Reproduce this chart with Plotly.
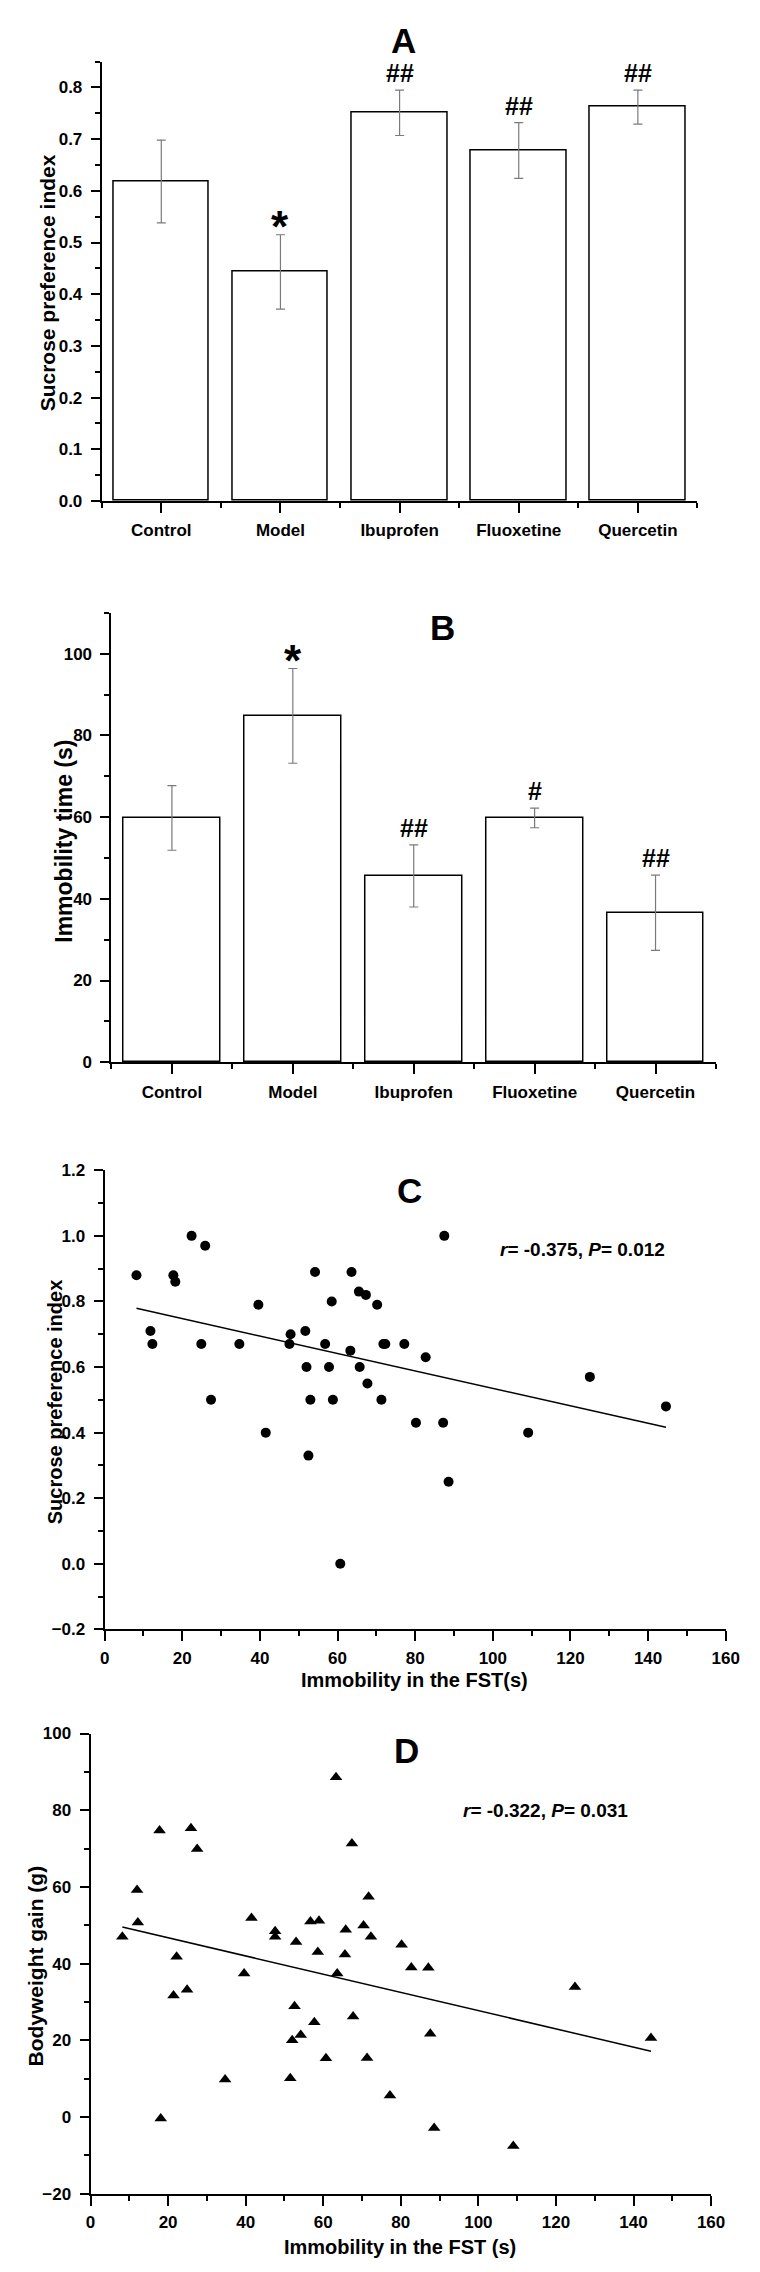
import numpy as np
import plotly.graph_objects as go

W, H = 760, 2272

# ---- data ----
groups = ["Control", "Model", "Ibuprofen", "Fluoxetine", "Quercetin"]

sucrose_mean = [0.618, 0.443, 0.751, 0.678, 0.762]
sucrose_sem = [0.080, 0.072, 0.044, 0.054, 0.033]
sucrose_sig = ["", "*", "##", "##", "##"]

immob_mean = [59.8, 84.8, 45.6, 59.8, 36.6]
immob_sem = [7.9, 11.6, 7.6, 2.4, 9.2]
immob_sig = ["", "*", "##", "#", "##"]

# panel C: immobility (s) vs sucrose preference index
fst_c = [8.2, 11.8, 12.3, 17.7, 18.2, 22.4, 25.9, 24.9, 27.4, 34.7, 39.6,
         41.5, 47.9, 47.6, 51.7, 52.0, 52.5, 53.0, 54.2, 56.8, 57.8, 58.5,
         58.8, 60.7, 63.3, 63.6, 65.5, 65.7, 67.3, 67.7, 70.2, 71.3, 71.8,
         72.3, 77.2, 80.2, 82.7, 87.2, 87.5, 88.6, 109.1, 125.0, 144.6]
spi_c = [0.88, 0.71, 0.67, 0.88, 0.86, 1.00, 0.97, 0.67, 0.50, 0.67, 0.79,
         0.40, 0.70, 0.67, 0.71, 0.60, 0.33, 0.50, 0.89, 0.67, 0.60, 0.80,
         0.50, 0.00, 0.65, 0.89, 0.83, 0.60, 0.82, 0.55, 0.79, 0.50, 0.67,
         0.67, 0.67, 0.43, 0.63, 0.43, 1.00, 0.25, 0.40, 0.57, 0.48]

# panel D: immobility (s) vs bodyweight gain (g)
fst_d = [8.2, 12.0, 12.2, 17.8, 18.1, 21.4, 22.2, 24.9, 25.9, 27.5, 34.7,
         39.6, 41.5, 47.6, 47.6, 51.5, 52.0, 52.6, 53.0, 54.2, 56.7, 57.7,
         58.6, 58.9, 60.7, 63.3, 63.6, 65.6, 65.8, 67.4, 67.7, 70.4, 71.3,
         71.7, 72.3, 77.2, 80.2, 82.7, 87.1, 87.6, 88.6, 109.0, 124.9, 144.5]
gain_d = [47.0, 59.2, 50.7, 74.7, -0.4, 31.7, 41.8, 33.2, 75.3, 69.9, 9.8,
          37.4, 51.9, 48.4, 47.0, 10.1, 20.0, 28.9, 45.6, 21.4, 51.0, 24.7,
          43.0, 51.2, 15.3, 88.6, 37.4, 42.4, 48.8, 71.3, 26.2, 49.9, 15.4,
          57.4, 47.0, 5.6, 44.9, 39.0, 38.9, 21.7, -2.9, -7.6, 33.9, 20.6]

stats_c = "<i>r</i>= -0.375, <i>P</i>= 0.012"
stats_d = "<i>r</i>= -0.322, <i>P</i>= 0.031"


FONT = "Liberation Sans, Arial, sans-serif"


def xdom(x0, x1):
    return [x0 / W, x1 / W]


def ydom(top, bottom):
    return [1 - bottom / H, 1 - top / H]


def at_px(x, y):
    return dict(x=x / W, y=1 - y / H, xref="paper", yref="paper",
                xanchor="center", yanchor="middle")


axis_style = dict(showline=True, linecolor="black", linewidth=2,
                  ticks="outside", ticklen=9, tickwidth=2, tickcolor="black",
                  ticklabelstandoff=5,
                  showgrid=False, zeroline=False, fixedrange=True,
                  tickfont=dict(family=FONT, size=17, color="black", weight="bold"))


def ax(**kw):
    return {**axis_style, **kw}


def minor(step, start=None):
    m = dict(dtick=step, ticks="outside", ticklen=5, tickwidth=2,
             tickcolor="black", showgrid=False)
    if start is not None:
        m["tick0"] = start
    return m


fig = go.Figure()

bar_style = dict(width=0.8, marker=dict(color="white", line=dict(color="black", width=1.5)),
                 showlegend=False, hoverinfo="skip")
err_style = dict(type="data", color="#7a7a7a", thickness=1.2, width=4.5)

fig.add_trace(go.Bar(x=list(range(len(groups))), y=sucrose_mean,
                     error_y=dict(array=sucrose_sem, **err_style),
                     xaxis="x", yaxis="y", **bar_style))
fig.add_trace(go.Bar(x=list(range(len(groups))), y=immob_mean,
                     error_y=dict(array=immob_sem, **err_style),
                     xaxis="x2", yaxis="y2", **bar_style))

# scatter + least squares line
for xs, ys, sym, size, n in [(fst_c, spi_c, "circle", 10, "3"),
                             (fst_d, gain_d, "triangle-up", 11, "4")]:
    fig.add_trace(go.Scatter(x=xs, y=ys, mode="markers",
                             marker=dict(symbol=sym, size=size, color="black"),
                             xaxis="x" + n, yaxis="y" + n, showlegend=False))
    k, b = np.polyfit(xs, ys, 1)
    ends = np.array([min(xs), max(xs)])
    fig.add_trace(go.Scatter(x=ends, y=k * ends + b, mode="lines",
                             line=dict(color="black", width=1.5),
                             xaxis="x" + n, yaxis="y" + n, showlegend=False))

cat_x = dict(range=[-0.5, 4.5], tickmode="array", tickvals=list(range(5)),
             ticktext=groups, ticklen=10, ticklabelstandoff=3, minor=minor(1, 0.5))
num_x = dict(range=[0, 160], dtick=20, ticklen=10, ticklabelstandoff=2, minor=minor(10))

fig.update_layout(
    width=W, height=H, margin=dict(l=0, r=0, t=0, b=0),
    paper_bgcolor="white", plot_bgcolor="white", bargap=0,
    xaxis=ax(domain=xdom(91, 702), anchor="y", **cat_x),
    yaxis=ax(domain=ydom(45, 488), anchor="x", range=[0, 0.85], dtick=0.1,
             tickformat=".1f", minor=minor(0.05)),
    xaxis2=ax(domain=xdom(101, 721), anchor="y2", **cat_x),
    yaxis2=ax(domain=ydom(601, 1054), anchor="x2", range=[0, 110], dtick=20,
              minor=minor(10)),
    xaxis3=ax(domain=xdom(94, 731), anchor="y3", **num_x),
    yaxis3=ax(domain=ydom(1163, 1626), anchor="x3", range=[-0.2, 1.2], dtick=0.2,
              tickformat=".1f", minor=minor(0.1)),
    xaxis4=ax(domain=xdom(79.5, 716), anchor="y4", **num_x),
    yaxis4=ax(domain=ydom(1731, 2195), anchor="x4", range=[-20, 100], dtick=20,
              minor=minor(10)),
)

ann = []
# panel letters
for letter, x, y in [("A", 400, 24), ("B", 441, 616), ("C", 407, 1183), ("D", 404, 1748)]:
    ann.append(dict(text="<b>" + letter + "</b>", showarrow=False,
                    font=dict(family=FONT, size=35, color="black"), **at_px(x, y)))

# axis titles
for text, x, y, size, angle in [
        ("Sucrose preference index", 35.5, 268, 21, -90),
        ("Immobility time (s)", 52, 831, 23, -90),
        ("Sucrose preference index", 43, 1396, 20, -90),
        ("Bodyweight gain (g)", 23.5, 1965, 21, -90),
        ("Immobility in the FST(s)", 412, 1677, 20, 0),
        ("Immobility in the FST (s)", 397, 2249, 20, 0)]:
    ann.append(dict(text="<b>" + text + "</b>", textangle=angle, showarrow=False,
                    font=dict(family=FONT, size=size, color="black"), **at_px(x, y)))

# significance marks above the error bars
for n, means, sems, marks in [("", sucrose_mean, sucrose_sem, sucrose_sig),
                              ("2", immob_mean, immob_sem, immob_sig)]:
    for i, s in enumerate(marks):
        if not s:
            continue
        star = s == "*"
        ann.append(dict(text="<b>" + s + "</b>", x=i, y=means[i] + sems[i],
                        xref="x" + n, yref="y" + n, xanchor="center",
                        showarrow=False, yanchor="bottom", yshift=-18 if star else 1,
                        font=dict(family=FONT, size=44 if star else 25, color="black")))

# correlation statistics
ann.append(dict(text="<b>" + stats_c + "</b>", x=123, y=0.958, xref="x3", yref="y3",
                xanchor="center", yanchor="middle",
                showarrow=False, font=dict(family=FONT, size=19, color="black")))
ann.append(dict(text="<b>" + stats_d + "</b>", x=117.2, y=79.8, xref="x4", yref="y4",
                xanchor="center", yanchor="middle",
                showarrow=False, font=dict(family=FONT, size=19, color="black")))

fig.update_layout(annotations=ann)

fig.write_html("out.html")
